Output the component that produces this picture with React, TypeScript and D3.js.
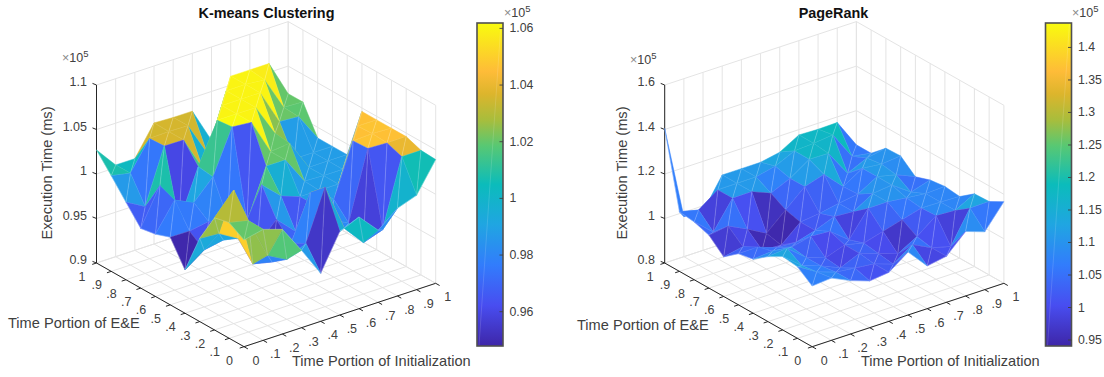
/**
 * Two MATLAB style surf plots (execution time over init / E&E time portion),
 * each with a parula colorbar. Orthographic projection, painter's order.
 */
import * as d3 from 'd3';

// rows: Time Portion of Initialization 0..1, columns: Time Portion of E&E 0..1
const kmeansRows = [
  [1.02, 1.03, 1.026, 0.9936, 0.9487, 0.976, 0.97, 0.967, 0.987, 1.0075, 1.027],
  [1.0247, 1.025, 1.05, 0.992, 0.964, 0.9757, 1.001, 1.008, 0.975, 1.003, 1.003],
  [1.0176, 0.979, 0.96, 0.9794, 0.968, 0.979, 0.991, 0.96, 1.036, 1.035, 1.003],
  [0.987, 0.9674, 0.955, 0.965, 0.97, 0.975, 1.013, 1.015, 1.0356, 1.0356, 1.036],
  [0.954, 0.978, 0.969, 0.986, 1.0157, 0.965, 1.062, 1.06, 0.9966, 1.035, 1.035],
  [0.994, 1.034, 1.0187, 0.9655, 0.996, 1.02, 1.06, 1.06, 1.06, 0.997, 1.035],
  [1.003, 0.981, 0.981, 0.988, 0.988, 1.02, 1.02, 1.06, 1.06, 1.06, 0.995],
  [0.981, 0.9577, 0.97, 0.987, 0.988, 0.989, 1.022, 1.024, 1.06, 1.06, 1.06],
  [0.9985, 0.965, 1.047, 1.046, 0.988, 0.988, 0.988, 0.988, 1.0206, 1.058, 1.06],
  [1.006, 1.04, 1.046, 1.047, 1.046, 0.988, 0.988, 0.988, 1.019, 1.02, 1.06],
  [1.039, 1.04, 1.046, 1.046, 1.046, 1.046, 0.988, 0.988, 0.988, 1.019, 1.019],
];

const pagerankRows = [
  [1.073, 1.122, 1.13, 1.092, 1.043, 1.03, 0.978, 1.038, 1.06, 1.068, 1.405],
  [1.08, 1.07, 1.06, 1.1, 1.05, 1.03, 0.995, 1.05, 0.985, 1.047, 0.98],
  [1.04, 1.04, 1.03, 1.03, 1.04, 1.0, 0.951, 1.007, 1.109, 1.109, 0.974],
  [1.01, 1.03, 0.993, 1.0, 1.059, 0.995, 0.945, 0.96, 1.11, 1.11, 1.11],
  [1.02, 1.02, 1.03, 1.03, 1.053, 1.02, 1.02, 1.037, 1.075, 1.11, 1.11],
  [1.083, 0.99, 1.0, 1.01, 0.987, 1.054, 1.03, 1.113, 1.113, 1.13, 1.11],
  [0.992, 1.05, 0.97, 1.034, 1.1, 1.047, 1.047, 1.14, 1.17, 1.17, 1.127],
  [1.007, 1.007, 1.02, 1.058, 1.1, 1.1, 1.06, 1.056, 1.168, 1.175, 1.176],
  [1.09, 0.984, 1.085, 1.082, 1.09, 1.11, 1.11, 1.11, 1.05, 1.185, 1.173],
  [1.06, 1.128, 1.08, 1.08, 1.08, 1.05, 1.09, 1.1, 1.09, 1.06, 1.175],
  [1.167, 1.13, 1.127, 1.077, 1.085, 1.076, 1.053, 1.109, 1.106, 1.046, 1.046],
];

const portionValues = [0, 0.1, 0.2, 0.3, 0.4, 0.5, 0.6, 0.7, 0.8, 0.9, 1];
const portionLabels = ['0', '.1', '.2', '.3', '.4', '.5', '.6', '.7', '.8', '.9', '1'];

const kmeansZTicks = [0.9, 0.95, 1, 1.05, 1.1];
const kmeansBarTicks = [0.96, 0.98, 1, 1.02, 1.04, 1.06];
const pagerankZTicks = [0.8, 1, 1.2, 1.4, 1.6];
const pagerankBarTicks = [0.95, 1, 1.05, 1.1, 1.15, 1.2, 1.25, 1.3, 1.35, 1.4];

const parulaOffsets = [0, 0.125, 0.25, 0.375, 0.5, 0.62, 0.7, 0.78, 0.85, 1];
const parulaStops = [
  '#3e26a8', '#484df0', '#327cfc', '#20a5e2', '#0bbcbb',
  '#58c873', '#a8bd3c', '#dcb52c', '#febc38', '#f9fb0e',
];

const FONT = '"Liberation Sans", Arial, Helvetica, sans-serif';
const TEXT = '#404040';
const GRID = '#e4e4e4';
const AXIS = '#262626';

interface PanelProps {
  title: string;
  rows: number[][];
  originX: number;
  zDomain: [number, number];
  zTicks: number[];
  barDomain: [number, number];
  barTicks: number[];
  barX: number;
  zLabelRight: number;
  zExpX: number;
  zExpY: number;
  zTitleX: number;
  titleX: number;
  eeLabelX: number;
  eeLabelY: number;
  initLabelX: number;
  barExpX: number;
  id: string;
}

function Exponent({ x, y }: { x: number; y: number }) {
  return (
    <text x={x} y={y} fontSize={12.5} fill={TEXT}>
      <tspan fill="#8a8a8a">×</tspan>
      <tspan>10</tspan>
      <tspan dy={-5} fontSize={9.5}>5</tspan>
    </text>
  );
}

function Panel(p: PanelProps) {
  const floorY = 346.7;
  const uX = d3.scaleLinear().domain([0, 1]).range([0, 191.7]);
  const uY = d3.scaleLinear().domain([0, 1]).range([0, -63.4]);
  const vX = d3.scaleLinear().domain([0, 1]).range([0, -147.5]);
  const vY = d3.scaleLinear().domain([0, 1]).range([0, -83.7]);
  const zH = d3.scaleLinear().domain(p.zDomain).range([0, 178]);

  const project = (u: number, v: number, z: number): [number, number] => [
    p.originX + uX(u) + vX(v),
    floorY + uY(u) + vY(v) - zH(z),
  ];

  const [zMin, zMax] = p.zDomain;
  const barTop = 23;
  const barBottom = 346;
  const barWidth = 26;
  const barScale = d3.scaleLinear().domain(p.barDomain).range([barBottom, barTop]);
  const colorT = d3.scaleLinear().domain(p.barDomain).range([0, 1]).clamp(true);
  const parula = d3
    .scaleLinear<string>()
    .domain(parulaOffsets)
    .range(parulaStops)
    .interpolate(d3.interpolateRgb);
  const color = (z: number) => parula(colorT(z));

  const line = d3.line();

  // back to front: large init and E&E indices sit furthest from the viewer
  const faces: { i: number; j: number }[] = [];
  for (let i = portionValues.length - 2; i >= 0; i--) {
    for (let j = portionValues.length - 2; j >= 0; j--) {
      faces.push({ i, j });
    }
  }

  return (
    <g fontFamily={FONT}>
      <text x={p.titleX} y={18} textAnchor="middle" fontSize={14.4} fontWeight="bold" fill="#111">
        {p.title}
      </text>

      {/* walls and floor grid */}
      <g stroke={GRID} strokeWidth={1} fill="none">
        {portionValues.map((t) => (
          <g key={t}>
            <path d={line([project(t, 0, zMin), project(t, 1, zMin), project(t, 1, zMax)])!} />
            <path d={line([project(0, t, zMin), project(1, t, zMin), project(1, t, zMax)])!} />
          </g>
        ))}
        {p.zTicks.map((z) => (
          <path key={z} d={line([project(0, 1, z), project(1, 1, z), project(1, 0, z)])!} />
        ))}
      </g>

      {/* axes */}
      <g stroke={AXIS} strokeWidth={1} fill="none">
        <path d={line([project(0, 1, zMax), project(0, 1, zMin), project(0, 0, zMin), project(1, 0, zMin)])!} />
        {p.zTicks.map((z) => {
          const [x, y] = project(0, 1, z);
          return <path key={z} d={line([[x, y], [x - 4, y - 1.6]])!} />;
        })}
        {portionValues.map((t) => {
          const [ax, ay] = project(0, t, zMin);
          const [bx, by] = project(t, 0, zMin);
          return (
            <g key={t}>
              <path d={line([[ax, ay], [ax - 4.3, ay + 1.4]])!} />
              <path d={line([[bx, by], [bx + 3.9, by + 2.2]])!} />
            </g>
          );
        })}
      </g>

      {/* axis labels */}
      <g fontSize={12.5} fill={TEXT}>
        {p.zTicks.map((z) => (
          <text key={z} x={p.zLabelRight} y={project(0, 1, z)[1] + 1} textAnchor="end">
            {d3.format('~g')(z)}
          </text>
        ))}
        {portionValues.map((t, k) => {
          const [ax, ay] = project(0, t, zMin);
          const [bx, by] = project(t, 0, zMin);
          return (
            <g key={t} textAnchor="middle">
              <text x={ax - 14.5} y={ay + 18}>{portionLabels[k]}</text>
              <text x={bx + 12} y={by + 18}>{portionLabels[k]}</text>
            </g>
          );
        })}
      </g>
      <Exponent x={p.zExpX} y={p.zExpY} />

      <g fontSize={14.6} fill={TEXT}>
        <text transform={`translate(${p.zTitleX},173) rotate(-90)`} textAnchor="middle">
          Execution Time (ms)
        </text>
        <text x={p.eeLabelX} y={p.eeLabelY}>Time Portion of E&amp;E</text>
        <text x={p.initLabelX} y={366}>Time Portion of Initialization</text>
      </g>

      {/* surface: each quad is two triangles, flat coloured from its front vertex */}
      <g>
        {faces.map(({ i, j }) => {
          const a = project(portionValues[i], portionValues[j], p.rows[i][j]);
          const b = project(portionValues[i + 1], portionValues[j], p.rows[i + 1][j]);
          const c = project(portionValues[i + 1], portionValues[j + 1], p.rows[i + 1][j + 1]);
          const d = project(portionValues[i], portionValues[j + 1], p.rows[i][j + 1]);
          const fill = color(p.rows[i][j]);
          return (
            <g key={`${i}-${j}`}>
              <path d={`${line([a, b, c])}Z`} fill={fill} stroke={fill} strokeWidth={0.5} />
              <path d={`${line([a, c, d])}Z`} fill={fill} stroke={fill} strokeWidth={0.5} />
              <path
                d={`${line([d, a, b])}M${a}L${c}`}
                fill="none"
                stroke="#fff"
                strokeOpacity={0.28}
                strokeWidth={0.8}
              />
            </g>
          );
        })}
      </g>

      {/* colorbar */}
      <defs>
        <linearGradient id={p.id} x1="0" y1="1" x2="0" y2="0">
          {parulaStops.map((c, k) => (
            <stop key={c} offset={parulaOffsets[k]} stopColor={c} />
          ))}
        </linearGradient>
      </defs>
      <rect x={p.barX} y={barTop} width={barWidth} height={barBottom - barTop} fill={`url(#${p.id})`} />
      <path
        d={line([[p.barX + 2, barBottom], [p.barX + barWidth - 2, barTop]])!}
        stroke="#fff"
        strokeOpacity={0.2}
        strokeWidth={0.7}
      />
      <rect
        x={p.barX}
        y={barTop}
        width={barWidth}
        height={barBottom - barTop}
        fill="none"
        stroke="#505050"
        strokeWidth={1.6}
      />
      {p.barTicks.map((t) => (
        <g key={t}>
          <path
            d={line([[p.barX + barWidth, barScale(t)], [p.barX + barWidth - 3.5, barScale(t)]])!}
            stroke="#404040"
            strokeWidth={0.9}
          />
          <text x={p.barX + 32.5} y={barScale(t) + 4} fontSize={12.3} fill={TEXT}>
            {d3.format('~g')(t)}
          </text>
        </g>
      ))}
      <Exponent x={p.barExpX} y={17} />
    </g>
  );
}

export default function App() {
  return (
    <svg
      width={1104}
      height={377}
      viewBox="0 0 1104 377"
      style={{ position: 'absolute', left: 0, top: 0, display: 'block', background: '#fff' }}
    >
      <Panel
        id="barKmeans"
        title="K-means Clustering"
        rows={kmeansRows}
        originX={244}
        zDomain={[0.9, 1.1]}
        zTicks={kmeansZTicks}
        barDomain={[0.9479, 1.0619]}
        barTicks={kmeansBarTicks}
        barX={477}
        zLabelRight={87}
        zExpX={62}
        zExpY={62}
        zTitleX={52}
        titleX={266.5}
        eeLabelX={8}
        eeLabelY={328}
        initLabelX={292}
        barExpX={504}
      />
      <Panel
        id="barPagerank"
        title="PageRank"
        rows={pagerankRows}
        originX={812.2}
        zDomain={[0.8, 1.6]}
        zTicks={pagerankZTicks}
        barDomain={[0.9408, 1.4376]}
        barTicks={pagerankBarTicks}
        barX={1045.5}
        zLabelRight={655}
        zExpX={630}
        zExpY={64}
        zTitleX={627}
        titleX={833.5}
        eeLabelX={577}
        eeLabelY={330}
        initLabelX={861}
        barExpX={1072}
      />
    </svg>
  );
}
